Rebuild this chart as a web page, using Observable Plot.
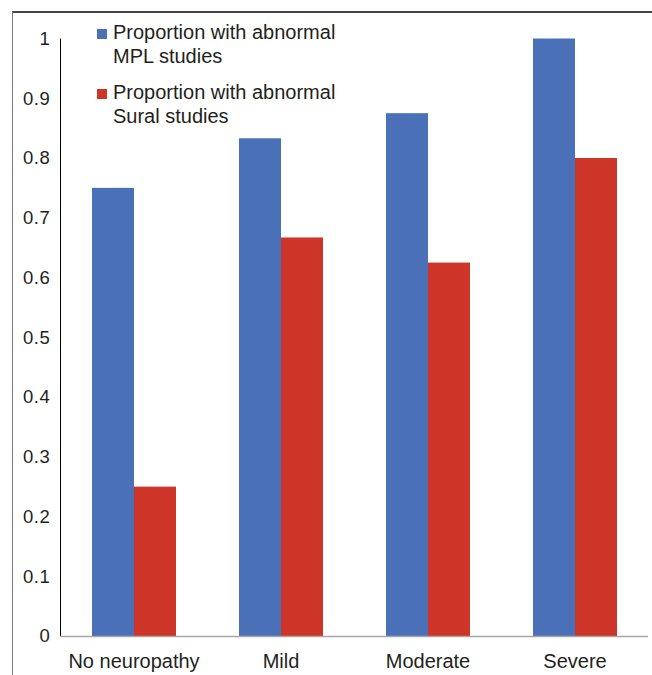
<!DOCTYPE html>
<html>
<head>
<meta charset="utf-8">
<script src="https://cdn.jsdelivr.net/npm/d3@7"></script>
<script src="https://cdn.jsdelivr.net/npm/@observablehq/plot@0.6"></script>
<style>
  html, body { margin: 0; padding: 0; background: #fff; }
  #wrap { position: relative; width: 652px; height: 675px; overflow: hidden; font-family: "Liberation Sans", Arial, sans-serif; }
  #frame { position: absolute; left: 12px; top: 11px; right: -2px; bottom: -2px; border-left: 1.5px solid #777; border-top: 2px solid #444; }
  #chart { position: absolute; left: 0; top: 0; }
  #chart svg text { font-family: "Liberation Sans", Arial, sans-serif; fill: #231f20; }
  #chart svg [aria-label='y-axis tick label'] text, #chart svg g[aria-label='y-axis'] text { font-size: 18.5px; letter-spacing: 0.6px; }
  .legend { position: absolute; left: 97px; font-size: 20px; line-height: 24px; color: #231f20; }
  .legend .sw { position: absolute; left: 0; width: 10px; height: 10px; }
  .legend .tx { position: absolute; left: 16px; white-space: nowrap; }
</style>
</head>
<body>
<div id="wrap">
  <div id="frame"></div>
  <div id="chart"></div>
  <div id="legend"></div>
</div>
<script>
// Neuropathy severity groups along the x axis
const categories = ["No neuropathy", "Mild", "Moderate", "Severe"];
// The two nerve-conduction study types, shown side by side
const series = ["MPL", "Sural"];
const seriesLabels = [["Proportion with abnormal", "MPL studies"], ["Proportion with abnormal", "Sural studies"]];
// Proportion of patients with abnormal results
const mplValues = [0.75, 0.833, 0.875, 1.0];
const suralValues = [0.25, 0.667, 0.625, 0.8];
const yTicks = [0, 0.1, 0.2, 0.3, 0.4, 0.5, 0.6, 0.7, 0.8, 0.9, 1];
const colors = ["#4a70b7", "#cd3529"];

const rows = [];
categories.forEach((c, i) => {
  rows.push({category: c, series: series[0], value: mplValues[i]});
  rows.push({category: c, series: series[1], value: suralValues[i]});
});

const chart = Plot.plot({
  width: 652,
  height: 675,
  marginLeft: 60,
  marginRight: 4,
  marginTop: 38.5,
  marginBottom: 39,
  style: {fontSize: "20px", background: "transparent", overflow: "visible"},
  fx: {domain: categories, padding: 0, label: null, axis: "bottom", tickSize: 0, tickPadding: 17},
  x: {domain: series, paddingInner: 0, paddingOuter: 0.75, axis: null},
  y: {domain: [0, 1], ticks: yTicks, tickFormat: d => String(d), tickSize: 0, tickPadding: 10, label: null, line: true},
  color: {domain: series, range: colors},
  marks: [
    Plot.barY(rows, {fx: "category", x: "series", y: "value", fill: "series"}),
    Plot.ruleY([0], {stroke: "#a6a6a6", strokeWidth: 1.5})
  ]
});
document.getElementById("chart").appendChild(chart);

// Light gray y axis line
chart.querySelectorAll("[aria-label='y-axis'] path, [aria-label='y-axis line'] path, [aria-label='y-axis'] line").forEach(el => {
  el.setAttribute("stroke", "#a6a6a6");
  el.setAttribute("stroke-width", "1.5");
});

// Legend in the upper left of the plot area
const legend = document.getElementById("legend");
const tops = [20, 80];
series.forEach((s, i) => {
  const g = document.createElement("div");
  g.className = "legend";
  g.style.top = tops[i] + "px";
  const sw = document.createElement("div");
  sw.className = "sw";
  sw.style.background = colors[i];
  sw.style.top = "9px";
  g.appendChild(sw);
  const tx = document.createElement("div");
  tx.className = "tx";
  tx.style.top = "0px";
  tx.innerHTML = seriesLabels[i].join("<br>");
  g.appendChild(tx);
  legend.appendChild(g);
});
</script>
</body>
</html>
